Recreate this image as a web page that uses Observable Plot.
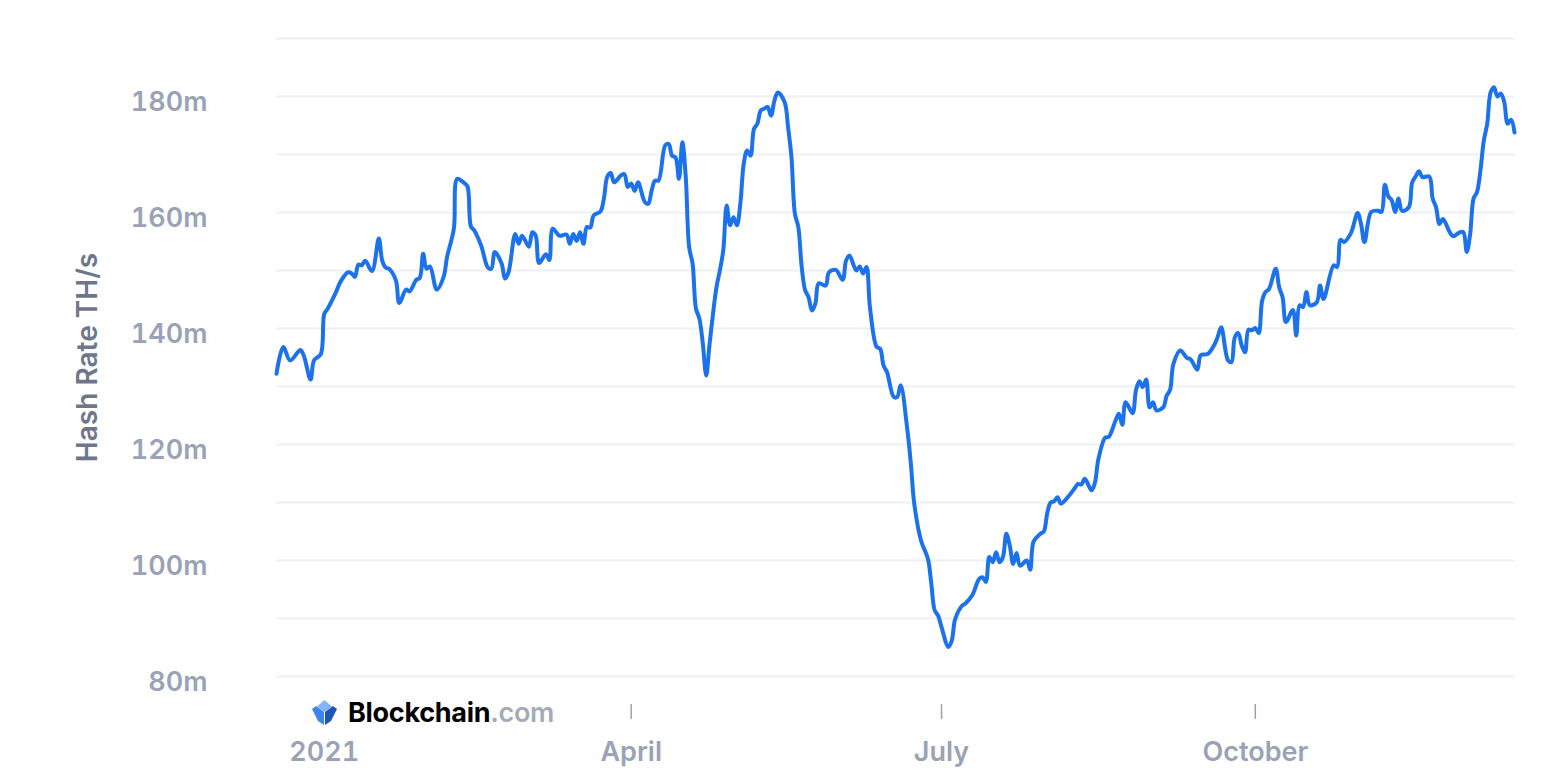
<!DOCTYPE html>
<html>
<head>
<meta charset="utf-8">
<script src="https://cdn.jsdelivr.net/npm/d3@7"></script>
<script src="https://cdn.jsdelivr.net/npm/@observablehq/plot@0.6"></script>
<style>
  html, body { margin: 0; padding: 0; background: #ffffff; }
  #wrap { position: relative; width: 1566px; height: 776px; font-family: Inter, "Noto Sans", sans-serif; }
  #logo { position: absolute; left: 311px; top: 696px; display: flex; align-items: center; font-family: Inter, sans-serif; font-size: 27px; font-weight: 700; letter-spacing: -0.3px; background: #fff; padding-right: 2px; }
  #logo svg { margin-right: 10px; }
  #logo .b { color: #000; }
  #logo .c { color: #a3abbb; font-weight: 600; }
</style>
</head>
<body>
<div id="wrap">
  <div id="chart"></div>
  <div id="logo">
    <svg width="27" height="27" viewBox="0 0 27 27">
      <polygon points="13.5,1 21,7.5 13.5,13 6,7.5" fill="#85b3f5"/>
      <polygon points="1,10 5,7 13,13 13,26 7,22" fill="#3c85f0"/>
      <polygon points="26,10 22,7 14,13 14,26 20,22" fill="#1d56b8"/>
    </svg>
    <span class="b">Blockchain</span><span class="c">.com</span>
  </div>
</div>
<script>
const dates = [
"2020-12-18","2020-12-20","2020-12-22","2020-12-25","2020-12-26","2020-12-28","2020-12-29","2020-12-31",
"2021-01-01","2021-01-02","2021-01-04","2021-01-06","2021-01-08","2021-01-09","2021-01-10","2021-01-11","2021-01-12","2021-01-13","2021-01-15","2021-01-17","2021-01-18","2021-01-19","2021-01-20","2021-01-22","2021-01-23","2021-01-25","2021-01-26","2021-01-28","2021-01-29","2021-01-30","2021-01-31",
"2021-02-01","2021-02-03","2021-02-05","2021-02-06","2021-02-08","2021-02-09","2021-02-11","2021-02-12","2021-02-13","2021-02-14","2021-02-16","2021-02-18","2021-02-19","2021-02-20","2021-02-22","2021-02-23","2021-02-24","2021-02-26","2021-02-27","2021-02-28",
"2021-03-02","2021-03-03","2021-03-04","2021-03-05","2021-03-07","2021-03-08","2021-03-09","2021-03-11","2021-03-13","2021-03-14","2021-03-15","2021-03-16","2021-03-17","2021-03-18","2021-03-19","2021-03-20","2021-03-21","2021-03-23","2021-03-24","2021-03-25","2021-03-26","2021-03-27","2021-03-29","2021-03-30","2021-03-31",
"2021-04-01","2021-04-02","2021-04-03","2021-04-05","2021-04-06","2021-04-07","2021-04-08","2021-04-09","2021-04-11","2021-04-12","2021-04-13","2021-04-14","2021-04-15","2021-04-16","2021-04-17","2021-04-18","2021-04-19","2021-04-20","2021-04-21","2021-04-22","2021-04-23","2021-04-24","2021-04-26","2021-04-27","2021-04-28","2021-04-29","2021-04-30",
"2021-05-01","2021-05-02","2021-05-03","2021-05-04","2021-05-05","2021-05-06","2021-05-07","2021-05-08","2021-05-09","2021-05-10","2021-05-11","2021-05-12","2021-05-13","2021-05-14","2021-05-16","2021-05-17","2021-05-18","2021-05-19","2021-05-20","2021-05-21","2021-05-22","2021-05-23","2021-05-24","2021-05-25","2021-05-26","2021-05-28","2021-05-29","2021-05-31",
"2021-06-02","2021-06-03","2021-06-04","2021-06-06","2021-06-07","2021-06-08","2021-06-09","2021-06-10","2021-06-12","2021-06-13","2021-06-14","2021-06-15","2021-06-17","2021-06-18","2021-06-19","2021-06-21","2021-06-22","2021-06-23","2021-06-25","2021-06-27","2021-06-28","2021-06-29","2021-06-30",
"2021-07-01","2021-07-03","2021-07-04","2021-07-05","2021-07-07","2021-07-08","2021-07-10","2021-07-12","2021-07-13","2021-07-14","2021-07-15","2021-07-16","2021-07-17","2021-07-18","2021-07-19","2021-07-20","2021-07-21","2021-07-22","2021-07-23","2021-07-24","2021-07-26","2021-07-27","2021-07-28","2021-07-30","2021-07-31",
"2021-08-01","2021-08-02","2021-08-03","2021-08-04","2021-08-05","2021-08-07","2021-08-09","2021-08-10","2021-08-11","2021-08-12","2021-08-14","2021-08-15","2021-08-16","2021-08-18","2021-08-19","2021-08-21","2021-08-22","2021-08-23","2021-08-24","2021-08-26","2021-08-27","2021-08-28","2021-08-29","2021-08-30","2021-08-31",
"2021-09-01","2021-09-02","2021-09-04","2021-09-05","2021-09-06","2021-09-07","2021-09-09","2021-09-11","2021-09-12","2021-09-14","2021-09-15","2021-09-17","2021-09-19","2021-09-20","2021-09-21","2021-09-23","2021-09-24","2021-09-25","2021-09-26","2021-09-27","2021-09-28","2021-09-29","2021-09-30",
"2021-10-01","2021-10-02","2021-10-03","2021-10-04","2021-10-05","2021-10-07","2021-10-08","2021-10-09","2021-10-10","2021-10-12","2021-10-13","2021-10-14","2021-10-15","2021-10-16","2021-10-17","2021-10-19","2021-10-20","2021-10-21","2021-10-24","2021-10-25","2021-10-26","2021-10-27","2021-10-29","2021-10-31",
"2021-11-01","2021-11-02","2021-11-04","2021-11-06","2021-11-07","2021-11-08","2021-11-09","2021-11-10","2021-11-11","2021-11-12","2021-11-13","2021-11-15","2021-11-16","2021-11-17","2021-11-18","2021-11-19","2021-11-21","2021-11-22","2021-11-23","2021-11-24","2021-11-25","2021-11-27","2021-11-28","2021-11-30",
"2021-12-01","2021-12-02","2021-12-03","2021-12-04","2021-12-05","2021-12-06","2021-12-07","2021-12-08","2021-12-09","2021-12-10","2021-12-11","2021-12-12","2021-12-13","2021-12-14","2021-12-15","2021-12-16"
];
const hashRate = [
132.2,136.8,134.5,136.3,135.3,131.2,134.5,135.6,
142.5,143.4,145.7,148.3,149.7,149.5,148.9,151.0,150.9,151.7,149.9,155.5,151.7,150.5,150.3,148.3,144.4,146.7,146.4,148.4,148.7,152.9,150.3,
150.7,146.7,148.9,152.3,157.2,165.8,165.1,164.5,157.6,156.9,154.3,150.5,150.3,153.2,151.2,148.6,149.6,156.3,154.6,156.0,
154.1,156.6,156.0,151.3,152.8,151.8,157.2,156.0,156.2,154.6,156.3,155.1,156.6,154.6,157.5,157.4,159.5,160.2,162.4,166.2,166.8,165.2,166.4,166.6,164.4,
165.0,163.7,165.2,161.8,161.5,163.8,165.5,165.5,171.6,171.8,169.8,169.5,165.8,172.1,166.1,154.0,151.2,143.4,141.7,137.4,131.9,137.4,147.1,150.0,153.5,161.2,157.8,
159.2,157.8,161.5,168.4,170.7,169.8,174.4,175.3,177.6,177.9,178.2,176.7,179.3,180.7,179.0,174.7,169.5,159.8,157.5,150.6,146.6,145.4,143.1,144.3,147.8,147.4,149.7,150.1,
148.4,151.7,152.6,150.0,150.7,149.5,150.6,143.7,136.8,136.5,133.6,132.5,128.2,128.2,130.2,122.4,116.7,109.8,103.4,100.3,96.0,91.4,90.5,
88.5,85.1,86.2,89.9,92.2,92.6,94.0,96.8,97.1,96.3,100.6,99.7,101.4,99.7,100.6,104.6,102.6,99.4,101.3,99.1,100.0,98.4,103.3,104.6,105.0,
108.2,110.0,110.2,110.9,109.8,110.9,112.4,113.2,113.1,114.1,112.1,113.5,117.5,121.2,121.3,124.1,125.3,123.4,127.3,125.4,129.3,130.9,129.9,131.2,126.4,
127.3,125.9,126.4,128.4,129.4,133.9,136.2,134.9,134.7,132.9,135.4,135.6,137.2,138.6,140.2,134.5,134.2,138.5,139.2,137.1,135.9,139.8,139.7,
140.1,139.2,144.8,146.3,146.8,150.3,147.1,145.4,141.1,143.2,138.8,144.0,143.7,146.3,144.0,144.5,147.4,145.1,150.9,150.6,155.3,154.9,156.4,159.9,
158.0,154.9,160.1,160.3,160.1,164.8,162.8,162.1,160.1,162.4,160.3,160.9,165.2,166.2,167.1,166.1,166.2,162.4,160.9,158.0,158.9,156.6,155.9,156.6,
156.6,153.2,156.3,162.4,163.5,167.2,172.4,175.3,180.7,181.6,180.0,180.5,179.0,175.3,176.0,173.8
];
const yGridValues = [80, 90, 100, 110, 120, 130, 140, 150, 160, 170, 180, 190];
const yTickValues = [80, 100, 120, 140, 160, 180];
const xTickDates = ["2021-01-01", "2021-04-01", "2021-07-01", "2021-10-01"];
const xTickLabels = ["2021", "April", "July", "October"];
const xTickMarkDates = ["2021-04-01", "2021-07-01", "2021-10-01"];
const yAxisTitle = "Hash Rate TH/s";

const data = dates.map((d, i) => ({date: new Date(d + "T00:00:00Z"), value: hashRate[i]}));
const tickDates = xTickDates.map(d => new Date(d + "T00:00:00Z"));
const tickMarkDates = xTickMarkDates.map(d => new Date(d + "T00:00:00Z"));
const labelFor = d => xTickLabels[tickDates.findIndex(t => +t === +d)];

const axisColor = "#9aa3b5";
const chart = Plot.plot({
  width: 1566,
  height: 776,
  marginLeft: 276,
  marginRight: 52,
  marginTop: 38,
  marginBottom: 72,
  style: {fontFamily: "Inter, 'Noto Sans', sans-serif", background: "#ffffff", overflow: "visible"},
  x: {type: "utc", domain: [data[0].date, data[data.length - 1].date]},
  y: {domain: [75.17, 190]},
  marks: [
    Plot.gridY(yGridValues, {stroke: "#eef0f5", strokeOpacity: 1, strokeWidth: 2}),
    Plot.axisY(yTickValues, {
      tickSize: 0, tickPadding: 69, dy: 6,
      tickFormat: d => d + "m",
      fontSize: 27, fontWeight: 600, fill: axisColor, label: null
    }),
    Plot.text([yAxisTitle], {
      frameAnchor: "left", textAnchor: "middle", rotate: -90, dx: -188, dy: -14,
      fontSize: 28, fontWeight: 600, fill: "#6e7789", text: d => d
    }),
    Plot.axisX(tickMarkDates, {
      tickSize: 15, tickFormat: () => "", stroke: axisColor, strokeWidth: 1.5, label: null
    }),
    Plot.axisX(tickDates, {
      tickSize: 0, tickPadding: 37,
      tickFormat: labelFor,
      fontSize: 27, fontWeight: 600, fill: axisColor, label: null
    }),
    Plot.line(data, {x: "date", y: "value", stroke: "#1c72ec", strokeWidth: 4, curve: "catmull-rom"})
  ]
});
document.getElementById("chart").appendChild(chart);
</script>
</body>
</html>
